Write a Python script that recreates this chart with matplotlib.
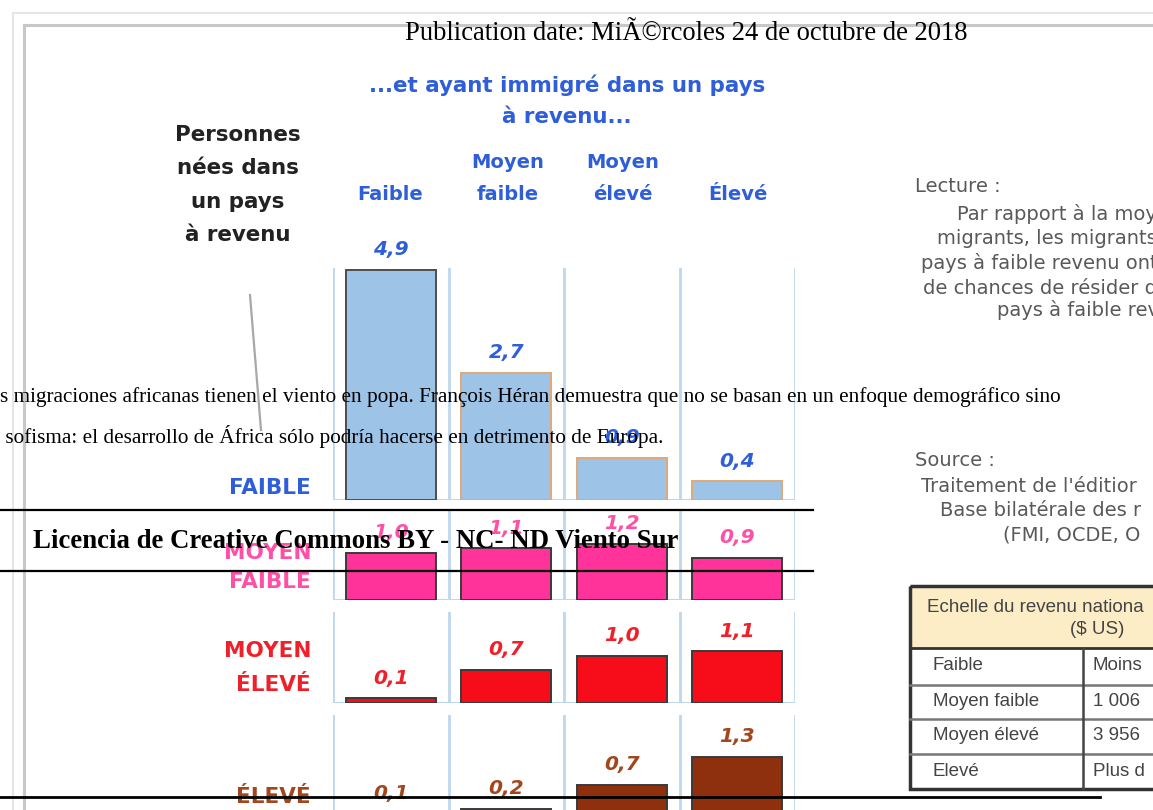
import matplotlib
matplotlib.use("Agg")
import matplotlib.pyplot as plt
from matplotlib.patches import Rectangle

# ---------------- data ----------------
dest_levels = ["Faible", "Moyen\nfaible", "Moyen\nélevé", "Élevé"]
origin_labels = ["FAIBLE", "MOYEN\nFAIBLE", "MOYEN\nÉLEVÉ", "ÉLEVÉ"]
from_faible = [4.9, 2.7, 0.9, 0.4]
from_moyen_faible = [1.0, 1.1, 1.2, 0.9]
from_moyen_eleve = [0.1, 0.7, 1.0, 1.1]
from_eleve = [0.1, 0.2, 0.7, 1.3]

title_lines = ["...et ayant immigré dans un pays", "à revenu..."]
origin_title = ["Personnes", "nées dans", "un pays", "à revenu"]
lecture_lines = ["Par rapport à la moy", "migrants, les migrants",
                 "pays à faible revenu ont", "de chances de résider d",
                 "pays à faible rev"]
source_lines = ["Traitement de l'éditior", "Base bilatérale des r",
                "(FMI, OCDE, O"]
table_header = ["Echelle du revenu nationa", "($ US)"]
table_rows = ["Faible", "Moyen faible", "Moyen élevé", "Elevé"]
table_values = ["Moins", "1 006", "3 956", "Plus d"]

pub_date = "Publication date: MiÃ©rcoles 24 de octubre de 2018"
intro_lines = ["s migraciones africanas tienen el viento en popa. François Héran demuestra que no se basan en un enfoque demográfico sino",
               " sofisma: el desarrollo de África sólo podría hacerse en detrimento de Europa."]
license_text = "Licencia de Creative Commons BY - NC- ND Viento Sur"

# ---------------- layout ----------------
W, H = 1153, 810
fig = plt.figure(figsize=(W / 100, H / 100), dpi=100, facecolor="white")


def px_axes(x0, y0, x1, y1, z):
    ax = fig.add_axes([x0 / W, 1 - y1 / H, (x1 - x0) / W, (y1 - y0) / H], zorder=z)
    return ax


INFO_FONT = "DejaVu Sans"
SERIF = "Liberation Serif"
BLUE = "#2F5FD8"

# background (infographic) axes in pixel coords
bg = px_axes(0, 0, W, H, 0)
bg.set_xlim(0, W)
bg.set_ylim(H, 0)
bg.axis("off")

# page frame
bg.plot([13, W], [13, 13], color="#E6E6E6", lw=1.5)
bg.plot([13, 13], [13, H], color="#E6E6E6", lw=1.5)
bg.plot([24, W], [25, 25], color="#C8C8C8", lw=2.2)
bg.plot([24, 24], [25, H], color="#C8C8C8", lw=2.2)

# titles
for i, t in enumerate(title_lines):
    bg.text(567, 85 + 32 * i, t, ha="center", va="center", color=BLUE,
            fontsize=15.4, fontweight="bold", family=INFO_FONT)
for i, t in enumerate(origin_title):
    bg.text(238, 135 + 33.3 * i, t, ha="center", va="center", color="#222222",
            fontsize=15.4, fontweight="bold", family=INFO_FONT)
# pointer line
bg.plot([250, 261], [295, 430], color="#A8A8A8", lw=1.6)

# column headers
col_centers = [390, 508, 623, 738]
for cx, lab in zip(col_centers, dest_levels):
    parts = lab.split("\n")
    for k, ln in enumerate(reversed(parts)):
        bg.text(cx, 195 - 32 * k, ln, ha="center", va="center", color=BLUE,
                fontsize=14, fontweight="bold", family=INFO_FONT)

# rows of bars
row_values = [from_faible, from_moyen_faible, from_moyen_eleve, from_eleve]
row_geom = [(500, 268), (600, 510), (703, 612), (818, 715)]   # baseline, top (px)
row_colors = ["#9DC3E6", "#FF3399", "#F70D1A", "#8E300E"]
row_text_colors = [BLUE, "#FF4FA7", "#F0202A", "#A4461C"]
row_edges = [["#4D4D4D", "#E0A878", "#E0A878", "#E0A878"],
             ["#3A3A3A"] * 4, ["#3A3A3A"] * 4, ["#3A3A3A"] * 4]
label_pos = [(488,), (553, 582), (651, 685), (797,)]
PX_PER_UNIT = 47.0
x_left, x_right = 333, 795

for r, vals in enumerate(row_values):
    base, top = row_geom[r]
    ax = px_axes(x_left, top, x_right, base, 1)
    ax.set_xlim(-0.5, 3.5)
    ax.set_ylim(0, (base - top) / PX_PER_UNIT)
    ax.axis("off")
    ax.patch.set_alpha(0)
    for xs in [-0.5, 0.5, 1.5, 2.5, 3.5]:
        ax.axvline(xs, color="#BDD7EE", lw=2, zorder=1)
    ax.axhline(0, color="#BDD7EE", lw=2.2, zorder=1)
    ax.bar(range(4), vals, width=0.78, color=row_colors[r],
           edgecolor=row_edges[r], linewidth=1.4, zorder=2)
    for i, v in enumerate(vals):
        ax.annotate(f"{v:.1f}".replace(".", ","), (i, v), xytext=(0, 14.5),
                    textcoords="offset points", ha="center", va="center",
                    color=row_text_colors[r], fontsize=14.5, fontweight="bold",
                    style="italic", family=INFO_FONT, annotation_clip=False)
    # origin label
    for ln, yy in zip(origin_labels[r].split("\n"), label_pos[r]):
        bg.text(311, yy, ln, ha="right", va="center", color=row_text_colors[r],
                fontsize=15.5, fontweight="bold", family=INFO_FONT)

# right side: Lecture / Source
GRAY = "#595959"
RS = 14
bg.text(915, 187, "Lecture :", ha="left", va="center", color=GRAY, fontsize=RS,
        family=INFO_FONT)
lect_x = [957, 937, 921, 923, 997]
lect_y = [214, 239, 263, 288, 310]
for t, x, y in zip(lecture_lines, lect_x, lect_y):
    bg.text(x, y, t, ha="left", va="center", color=GRAY, fontsize=RS, family=INFO_FONT)
bg.text(915, 461, "Source :", ha="left", va="center", color=GRAY, fontsize=RS,
        family=INFO_FONT)
for t, x, y in zip(source_lines, [921, 940, 1003], [487, 510, 535]):
    bg.text(x, y, t, ha="left", va="center", color=GRAY, fontsize=RS, family=INFO_FONT)

# table
TAB = "Liberation Sans"
TS = 13.5
bg.add_patch(Rectangle((910, 586), 260, 62, facecolor="#FCEDC6", edgecolor="none"))
bg.add_patch(Rectangle((910, 586), 260, 203, facecolor="none", edgecolor="#333333", lw=2.5))
bg.text(927, 607, table_header[0], ha="left", va="center", color="#444444", fontsize=TS, family=TAB)
bg.text(1097, 630, table_header[1], ha="center", va="center", color="#444444", fontsize=TS, family=TAB)
bg.plot([910, W], [648, 648], color="#333333", lw=2)
for yy in [685, 719, 754]:
    bg.plot([910, W], [yy, yy], color="#777777", lw=1.8)
bg.plot([1083, 1083], [648, 789], color="#444444", lw=1.8)
for i, (a, b) in enumerate(zip(table_rows, table_values)):
    yy = 666 + 35 * i
    bg.text(933, yy, a, ha="left", va="center", color="#444444", fontsize=TS, family=TAB)
    bg.text(1093, yy, b, ha="left", va="center", color="#444444", fontsize=TS, family=TAB)

# ---------------- web page overlay ----------------
top = px_axes(0, 0, W, H, 3)
top.set_xlim(0, W)
top.set_ylim(H, 0)
top.axis("off")
top.patch.set_alpha(0)

top.text(686, 34, pub_date, ha="center", va="center", color="black",
         fontsize=19.2, family=SERIF)
top.text(0, 397, intro_lines[0], ha="left", va="center", color="black",
         fontsize=15.3, family=SERIF)
top.text(0, 437, intro_lines[1], ha="left", va="center", color="black",
         fontsize=15.3, family=SERIF)
top.plot([0, 813], [510, 510], color="black", lw=1.6)
top.plot([0, 813], [571, 571], color="black", lw=1.6)
top.text(33, 541, license_text, ha="left", va="center", color="black",
         fontsize=19.3, fontweight="bold", family=SERIF)
top.plot([0, 1100], [797, 797], color="black", lw=2)

fig.savefig("out.png", dpi=100, facecolor="white")
